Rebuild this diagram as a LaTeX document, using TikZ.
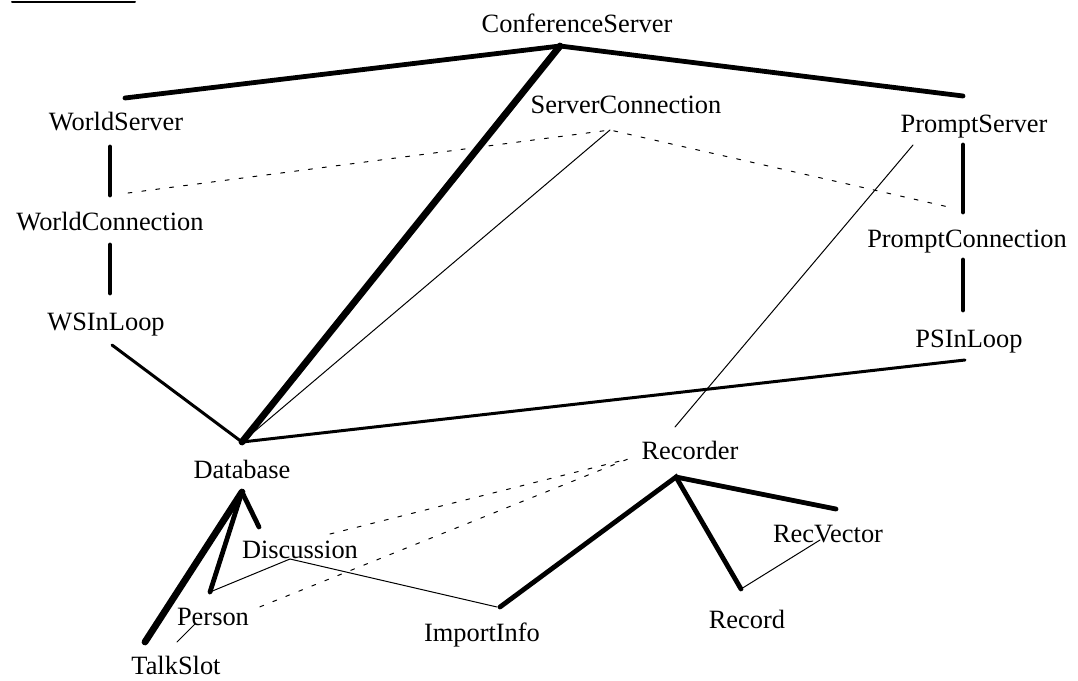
\documentclass[tikz,border=0pt]{standalone}
\usepackage{fontspec}
\setmainfont{Liberation Serif}

\begin{document}
\begin{tikzpicture}[x=0.5pt, y=-0.5pt, line cap=round,
	cls/.style={font=\fontsize{13.2}{15}\selectfont, inner sep=0pt, anchor=base},
	heavy/.style={line width=2.4pt},
	heavier/.style={line width=3.4pt},
	medium/.style={line width=1.5pt},
	thin/.style={line width=0.5pt},
	use/.style={line width=0.5pt, dash pattern=on 2pt off 5pt}]
	\useasboundingbox (0,0) rectangle (1078,681);
	\draw[line width=1pt] (12,2) -- (135,2);

	% class names
	\node[cls] (CS) at (577,32) {ConferenceServer};
	\node[cls] (WS) at (116,130) {WorldServer};
	\node[cls] (SC) at (626,113) {ServerConnection};
	\node[cls] (PS) at (974,132) {PromptServer};
	\node[cls] (WC) at (110,230) {WorldConnection};
	\node[cls] (PC) at (967,247) {PromptConnection};
	\node[cls] (WL) at (106,330) {WSInLoop};
	\node[cls] (PL) at (969,347) {PSInLoop};
	\node[cls] (DB) at (242,478) {Database};
	\node[cls] (RC) at (690,459) {Recorder};
	\node[cls] (RV) at (828,542) {RecVector};
	\node[cls] (DI) at (300,558) {Discussion};
	\node[cls] (RD) at (747,628) {Record};
	\node[cls] (PE) at (213,625) {Person};
	\node[cls] (II) at (482,641) {ImportInfo};
	\node[cls] (TS) at (176,674) {TalkSlot};

	% ports
	\coordinate (CS-b) at (560,46);
	\coordinate (WS-t) at (125,98);
	\coordinate (WS-b) at (110,147);
	\coordinate (SC-b) at (610,130);
	\coordinate (PS-t) at (963,96);
	\coordinate (PS-b) at (963,145);
	\coordinate (PS-l) at (913,145);
	\coordinate (WC-t) at (110,195);
	\coordinate (WC-d) at (128,193);
	\coordinate (WC-b) at (110,245);
	\coordinate (PC-t) at (963,212);
	\coordinate (PC-d) at (953,208);
	\coordinate (PC-b) at (963,260);
	\coordinate (WL-t) at (110,293);
	\coordinate (WL-b) at (112,345);
	\coordinate (PL-t) at (963,310);
	\coordinate (PL-b) at (965,360);
	\coordinate (DB-t) at (242,442);
	\coordinate (DB-b) at (242,492);
	\coordinate (RC-t) at (675,427);
	\coordinate (RC-d) at (628,459);
	\coordinate (RC-b) at (676,477);
	\coordinate (DI-t) at (259,527);
	\coordinate (DI-d) at (330,534);
	\coordinate (DI-b) at (290,559);
	\coordinate (PE-t) at (210,592);
	\coordinate (PE-d) at (257,608);
	\coordinate (PE-b) at (195,624);
	\coordinate (TS-t) at (145,642);
	\coordinate (TS-r) at (177,642);
	\coordinate (II-t) at (500,607);
	\coordinate (II-l) at (497,607);
	\coordinate (RD-t) at (741,589);
	\coordinate (RV-t) at (836,509);
	\coordinate (RV-b) at (820,540);

	% connections
	\draw[heavy] (WS-t) -- (CS-b) -- (PS-t);
	\draw[heavier] (CS-b) -- (DB-t);
	\draw[heavy] (WS-b) -- (WC-t);
	\draw[heavy] (WC-b) -- (WL-t);
	\draw[heavy] (PS-b) -- (PC-t);
	\draw[heavy] (PC-b) -- (PL-t);
	\draw[medium] (WL-b) -- (DB-t) -- (PL-b);
	\draw[thin] (SC-b) -- (DB-t);
	\draw[thin] (PS-l) -- (RC-t);
	\draw[use] (WC-d) -- (SC-b) -- (PC-d);

	\draw[heavy] (DB-b) -- (DI-t);
	\draw[heavy] (DB-b) -- (PE-t);
	\draw[heavier] (DB-b) -- (TS-t);
	\draw[thin] (PE-t) -- (DI-b) -- (II-l);
	\draw[thin] (PE-b) -- (TS-r);
	\draw[use] (DI-d) -- (RC-d) -- (PE-d);

	\draw[heavy] (II-t) -- (RC-b) -- (RD-t);
	\draw[heavy] (RC-b) -- (RV-t);
	\draw[thin] (RD-t) -- (RV-b);
\end{tikzpicture}
\end{document}
